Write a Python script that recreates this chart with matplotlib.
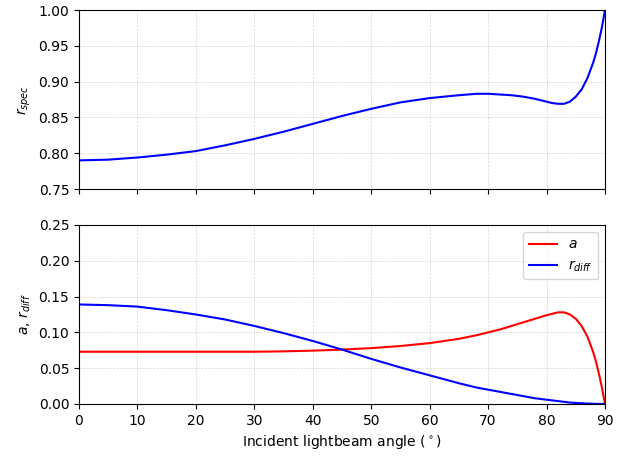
import matplotlib
matplotlib.use("Agg")
import matplotlib.pyplot as plt

# Incident angle (deg) and the three coefficients
angle = [0, 5, 10, 15, 20, 25, 30, 35, 40, 45, 50, 55, 60, 65, 68, 70, 72, 74,
         76, 78, 80, 81, 82, 83, 84, 85, 86, 87, 88, 88.5, 89, 89.5, 90]
r_spec = [0.790, 0.791, 0.794, 0.798, 0.803, 0.811, 0.820, 0.830, 0.841, 0.852,
          0.862, 0.871, 0.877, 0.881, 0.883, 0.883, 0.882, 0.881, 0.879, 0.876,
          0.872, 0.870, 0.869, 0.869, 0.872, 0.879, 0.889, 0.905, 0.927, 0.941,
          0.958, 0.977, 1.0]
a = [0.073, 0.073, 0.073, 0.073, 0.073, 0.073, 0.073, 0.0735, 0.0745, 0.076,
     0.078, 0.081, 0.085, 0.091, 0.096, 0.100, 0.104, 0.109, 0.114, 0.119,
     0.124, 0.126, 0.128, 0.128, 0.125, 0.119, 0.109, 0.094, 0.072, 0.058,
     0.041, 0.022, 0.0]
r_diff = [0.139, 0.138, 0.136, 0.131, 0.125, 0.118, 0.109, 0.099, 0.088, 0.076,
          0.063, 0.051, 0.040, 0.029, 0.023, 0.020, 0.017, 0.014, 0.011, 0.008,
          0.006, 0.005, 0.004, 0.003, 0.002, 0.0015, 0.001, 0.0006, 0.0003,
          0.0002, 0.0001, 0.00005, 0.0]

fig = plt.figure(figsize=(6.23, 4.57), dpi=100)
ax1 = fig.add_axes([0.1268, 0.5864, 0.8443, 0.3917])
ax2 = fig.add_axes([0.1268, 0.116, 0.8443, 0.3917], sharex=ax1)

# top: specular reflection
ax1.plot(angle, r_spec, 'b-', linewidth=1.5)
ax1.set_ylabel(r'$r_{spec}$')
ax1.set_ylim(0.75, 1.0)
ax1.grid(True, linestyle='--', linewidth=0.5, alpha=0.5)
ax1.tick_params(labelbottom=False)

# bottom: absorption + diffuse
ax2.plot(angle, a, 'r-', linewidth=1.5, label=r'$a$')
ax2.plot(angle, r_diff, 'b-', linewidth=1.5, label=r'$r_{diff}$')
ax2.set_ylabel(r'$a$, $r_{diff}$')
ax2.set_ylim(0, 0.25)
ax2.set_xlim(0, 90)
ax2.set_xticks(range(0, 91, 10))
ax2.set_xlabel(r'Incident lightbeam angle ($^\circ$)')
ax2.grid(True, linestyle='--', linewidth=0.5, alpha=0.5)
ax2.legend(loc='upper right')

plt.savefig('out.png', dpi=100)
